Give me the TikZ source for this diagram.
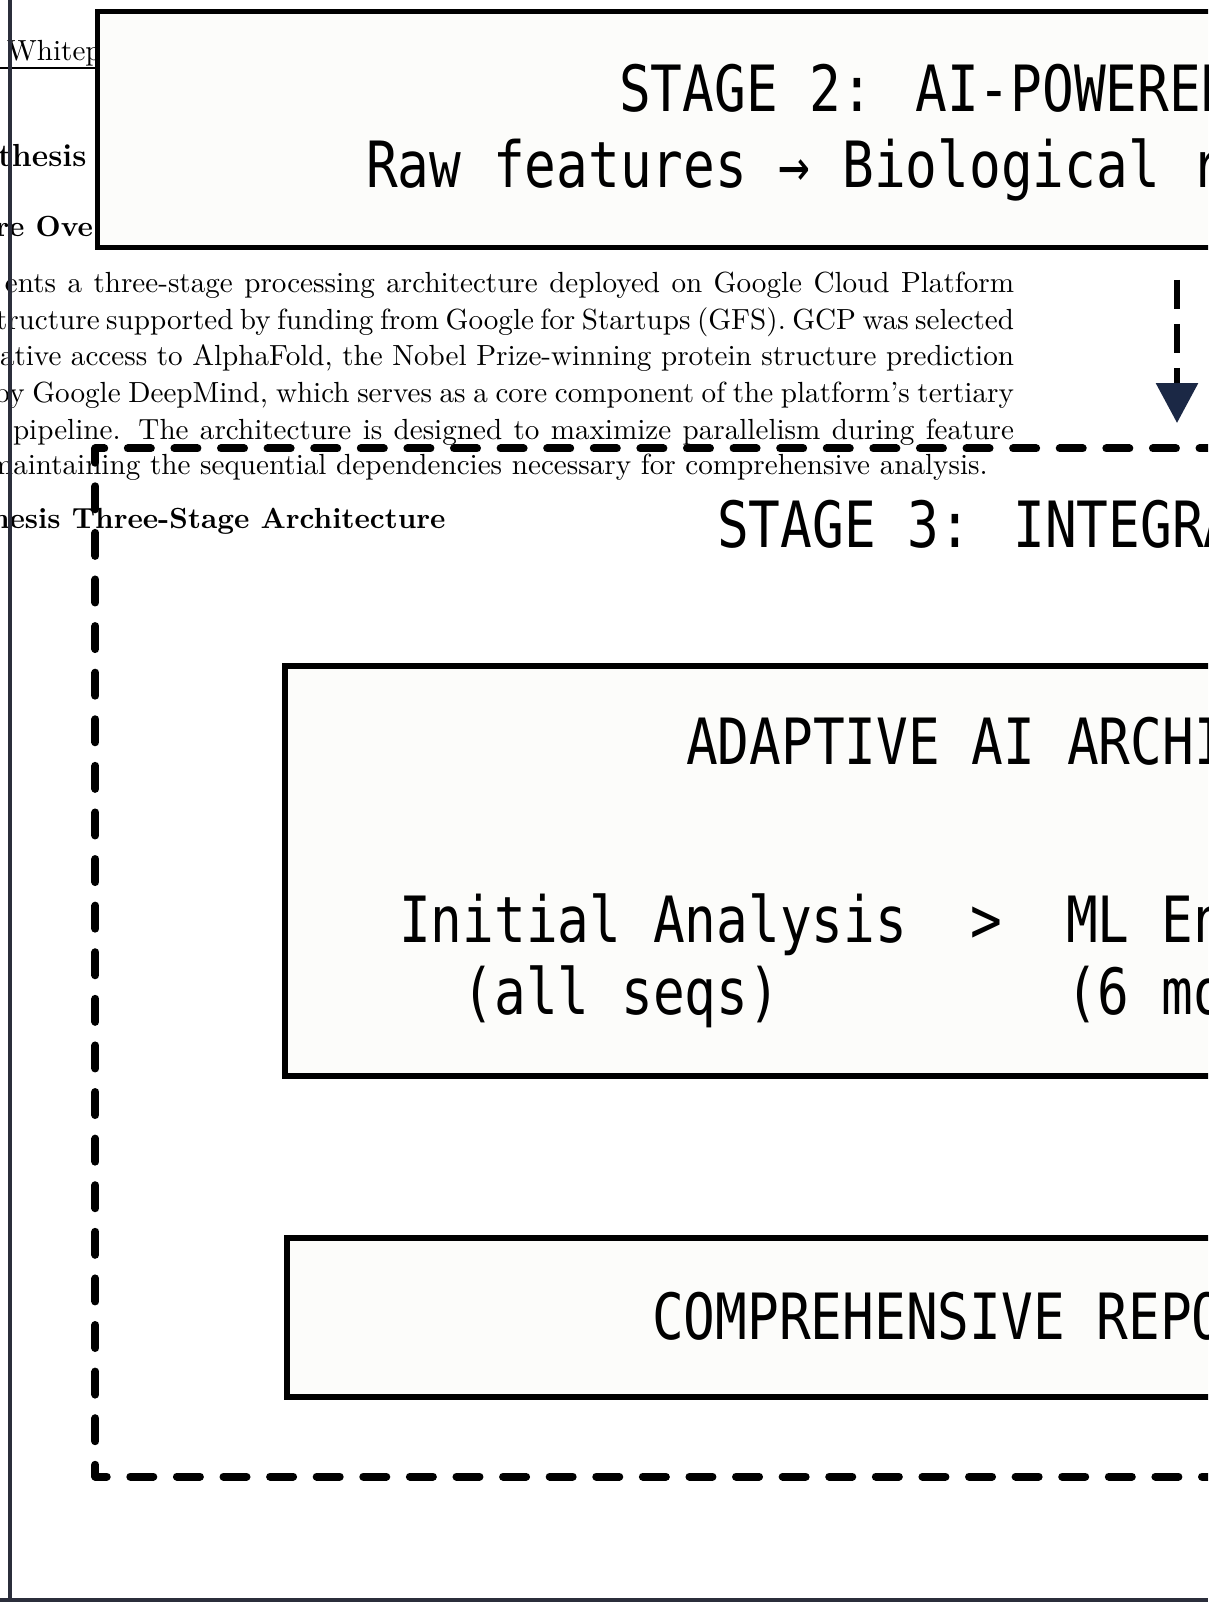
\documentclass[tikz,border=0pt]{standalone}
\usepackage{fontspec}
\newfontfamily\diagmono[FakeStretch=0.827]{DejaVu Sans Mono}
\usetikzlibrary{arrows.meta,fit}
\definecolor{framec}{HTML}{2B2E3B}
\definecolor{headc}{HTML}{1B2845}
\definecolor{boxfill}{HTML}{FCFCFA}
\tikzset{
  doctext/.style={anchor=base west, inner sep=0pt, outer sep=0pt, font=\fontsize{10.95}{13.6}\selectfont},
  docbold/.style={doctext, font=\fontsize{10.95}{13.6}\selectfont\bfseries},
  docbig/.style={doctext, font=\fontsize{12}{14.5}\selectfont\bfseries},
  monotext/.style={anchor=base west, inner sep=0pt, outer sep=0pt, font=\fontsize{23.98}{29}\diagmono},
  solidbox/.style={draw=black, line width=2.1pt, fill=boxfill, inner sep=0pt, outer sep=0pt},
  stageframe/.style={draw=black, line width=3.01pt, line cap=round, line join=round, dash pattern=on 8.65pt off 8.87pt},
  flowarrow/.style={draw=black, line width=2.26pt, dash pattern=on 10.9pt off 5.64pt, -{Triangle[length=15pt, width=15.4pt, color=headc, fill=headc]}},
  pageframe/.style={draw=framec, line width=1.7pt},
}
\begin{document}
\begin{tikzpicture}[x=0.376pt, y=-0.376pt]
\useasboundingbox (0,0) rectangle (1208,1602);
\fill[white] (0,0) rectangle (1208,1602);
\clip (0,0) rectangle (1208,1602);

% ---- underlying document page ----
\node[doctext] (hdr) at (7,61) {Whitep};
\coordinate (rule1) at (0,68);
\coordinate (rule2) at (96,68);
\draw[line width=0.4pt] (rule1) -- (rule2);
\node[docbig] (sec) at (-2,167) {thesis};
\node[docbold, anchor=base east] (subsec) at (93,237) {re Ove};
\node[doctext] (p1) at (5,293) {\makebox[379.4pt][s]{ents a three-stage processing architecture deployed on Google Cloud Platform}};
\node[doctext] (p2) at (-4,329.5) {\makebox[382.8pt][s]{tructure supported by funding from Google for Startups (GFS). GCP was selected}};
\node[doctext] (p3) at (0,366) {\makebox[381.3pt][s]{ative access to AlphaFold, the Nobel Prize-winning protein structure prediction}};
\node[doctext] (p4) at (-6,402.5) {\makebox[383.5pt][s]{by Google DeepMind, which serves as a core component of the platform's tertiary}};
\node[doctext] (p5) at (13,439) {\makebox[376.4pt][s]{pipeline. The architecture is designed to maximize parallelism during feature}};
\node[doctext] (p6) at (-11,474) {maintaining the sequential dependencies necessary for comprehensive analysis.};
\node[docbold] (figt) at (-9,528) {hesis Three-Stage Architecture};

% ---- stage 2 ----
\node[solidbox, fit={(97.5,11.5) (1900,247.5)}] (s2) {};
\node[monotext] (s2a) at (619,112) {STAGE 2: AI-POWERED};
\node[monotext] (s2b) at (366,188) {Raw features → Biological r};

% ---- connector ----
\coordinate (a1) at (1177,280);
\coordinate (a2) at (1177,423);
\draw[flowarrow] (a1) -- (a2);

% ---- stage 3 ----
\node[fit={(96,449) (1900,1476)}, inner sep=0pt] (s3) {};
\draw[stageframe, dash phase=7.86pt] (s3.north east) -- (s3.north west) -- (s3.south west) -- (s3.south east);
\node[monotext] (s3t) at (717,547) {STAGE 3: INTEGRA};

\node[solidbox, line width=2.3pt, fit={(285,666) (1900,1076)}] (ada) {};
\node[monotext] (adat) at (686,764) {ADAPTIVE AI ARCHI};
\node[monotext] (ini) at (399,942) {Initial Analysis};
\node[monotext] (gt) at (970.7,942) {>};
\node[monotext] (ml) at (1066,942) {ML En};
\node[monotext] (alls) at (462.5,1014) {(all seqs)};
\node[monotext] (six) at (1066,1014) {(6 mo};

\node[solidbox, fit={(287,1238) (1900,1397)}] (rep) {};
\node[monotext] (rept) at (652,1339) {COMPREHENSIVE REPO};

% ---- page frame ----
\coordinate (f1) at (10,0);
\coordinate (f2) at (10,1602);
\coordinate (f3) at (0,1600);
\coordinate (f4) at (1208,1600);
\draw[pageframe] (f1) -- (f2);
\draw[pageframe, line width=1.15pt] (f3) -- (f4);
\end{tikzpicture}
\end{document}
